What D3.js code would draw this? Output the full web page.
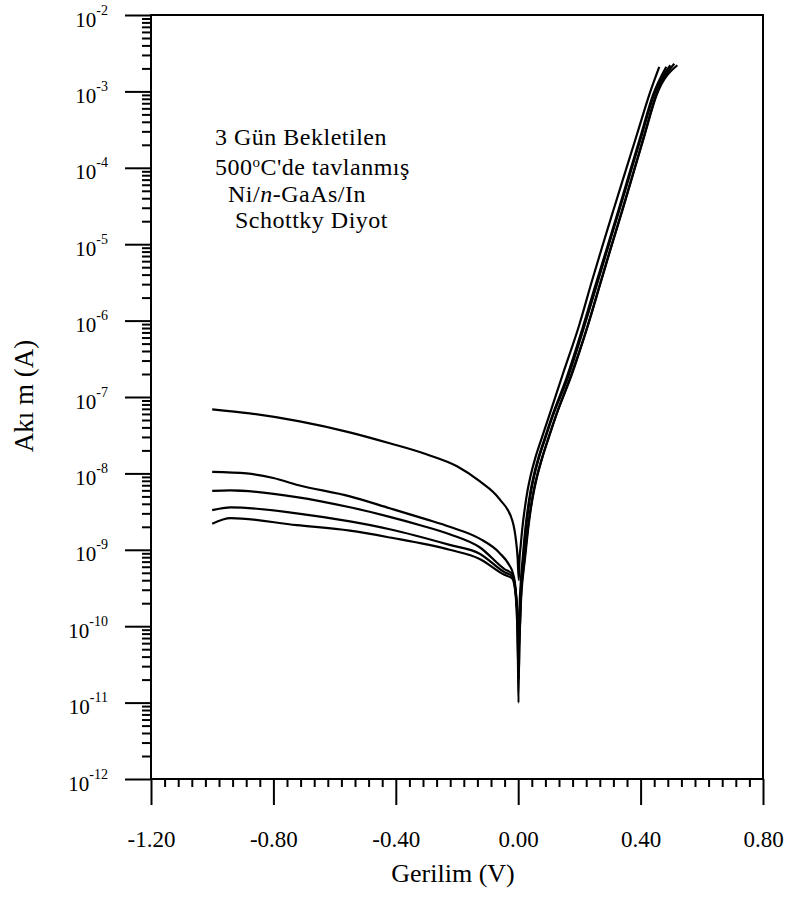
<!DOCTYPE html>
<html lang="en">
<head>
<meta charset="UTF-8">
<title>I-V</title>
<style>
    body { margin: 0; background: #fff; }
    text { font-family: "Liberation Serif", "Times New Roman", serif; fill: #000; }
    .curve { fill: none; stroke: #000; stroke-width: 2.2; }
    .axis path, .axis line { stroke: #000; }
</style>
</head>
<body>
<script src="https://d3js.org/d3.v7.min.js"></script>
<script>
    const width = 787;
    const height = 899;

    // tick values and labels
    const xMajor = [-1.2, -0.8, -0.4, 0, 0.4, 0.8];
    const xLabels = ['-1.20', '-0.80', '-0.40', '0.00', '0.40', '0.80'];
    const yExponents = [-12, -11, -10, -9, -8, -7, -6, -5, -4, -3, -2];

    // five measurements, voltage (V) and |current| (A)
    const vA = [-1.00, -0.877, -0.714, -0.551, -0.42, -0.30, -0.20, -0.126, -0.061, -0.019, -0.008, -0.002, 0.002,
        0.004, 0.008, 0.014, 0.022, 0.030, 0.040, 0.055, 0.075, 0.10, 0.146, 0.20, 0.24, 0.277, 0.31, 0.354, 0.39, 0.432, 0.461];
    const iA = [6.9e-8, 6.1e-8, 4.8e-8, 3.45e-8, 2.48e-8, 1.78e-8, 1.24e-8, 7.9e-9, 4.6e-9, 2.4e-9, 1.4e-9, 8e-10, 4e-10,
        7.1e-10, 1.12e-9, 2.0e-9, 3.6e-9, 5.8e-9, 9.1e-9, 1.55e-8, 2.75e-8, 5.5e-8, 2.0e-7, 8.9e-7, 3.2e-6, 1.0e-5, 2.7e-5, 1.0e-4, 2.9e-4, 1.0e-3, 2.1e-3];

    const vB = [-1.00, -0.887, -0.80, -0.724, -0.55, -0.42, -0.30, -0.224, -0.126, -0.061, -0.028, -0.019, -0.010, -0.004, -0.001, 0.001, 0.004, 0.008,
        0.014, 0.018, 0.024, 0.032, 0.040, 0.050, 0.065, 0.085, 0.11, 0.158, 0.21, 0.25, 0.29, 0.33, 0.365, 0.40, 0.44, 0.484];
    const iB = [1.05e-8, 1.0e-8, 8.7e-9, 7.1e-9, 5.0e-9, 3.5e-9, 2.5e-9, 2.0e-9, 1.4e-9, 9.1e-10, 6.2e-10, 5.2e-10, 3.5e-10, 1.6e-10, 4e-11, 1e-11, 1.5e-10, 3.5e-10,
        7.2e-10, 1.12e-9, 2.0e-9, 3.6e-9, 5.8e-9, 9.1e-9, 1.55e-8, 2.75e-8, 5.5e-8, 1.78e-7, 7.9e-7, 2.7e-6, 8.9e-6, 3.0e-5, 8.9e-5, 2.6e-4, 8.9e-4, 2.1e-3];

    const vC = [-1.00, -0.942, -0.724, -0.55, -0.42, -0.32, -0.224, -0.126, -0.045, -0.019, -0.008, -0.003, 0.002, 0.006,
        0.016, 0.020, 0.026, 0.034, 0.042, 0.052, 0.067, 0.087, 0.112, 0.162, 0.214, 0.253, 0.293, 0.333, 0.368, 0.403, 0.443, 0.497];
    const iC = [5.9e-9, 6.0e-9, 4.9e-9, 3.6e-9, 2.7e-9, 2.1e-9, 1.6e-9, 1.08e-9, 5.6e-10, 4.8e-10, 2.5e-10, 1e-10, 2e-11, 1.6e-10,
        7.2e-10, 1.12e-9, 2.0e-9, 3.6e-9, 5.8e-9, 9.1e-9, 1.55e-8, 2.75e-8, 5.5e-8, 1.78e-7, 7.9e-7, 2.6e-6, 8.9e-6, 3.0e-5, 8.9e-5, 2.6e-4, 8.9e-4, 2.2e-3];

    const vD = [-1.00, -0.94, -0.724, -0.55, -0.42, -0.224, -0.126, -0.045, -0.019, -0.008, -0.002, 0.003, 0.008,
        0.020, 0.025, 0.032, 0.041, 0.050, 0.061, 0.077, 0.097, 0.122, 0.174, 0.226, 0.265, 0.30, 0.34, 0.375, 0.41, 0.45, 0.51];
    const iD = [3.3e-9, 3.6e-9, 3.0e-9, 2.35e-9, 1.86e-9, 1.16e-9, 8.9e-10, 5.1e-10, 4.5e-10, 2.8e-10, 1.3e-10, 5e-11, 2.0e-10,
        7.2e-10, 1.12e-9, 2.0e-9, 3.6e-9, 5.8e-9, 9.1e-9, 1.55e-8, 2.75e-8, 5.5e-8, 2.0e-7, 8.3e-7, 2.8e-6, 8.3e-6, 2.8e-5, 8.3e-5, 2.5e-4, 8.9e-4, 2.3e-3];

    const vE = [-1.00, -0.94, -0.724, -0.55, -0.42, -0.224, -0.126, -0.045, -0.019, -0.008, -0.002, 0.004, 0.01,
        0.022, 0.027, 0.034, 0.043, 0.052, 0.063, 0.079, 0.099, 0.124, 0.176, 0.228, 0.267, 0.302, 0.342, 0.377, 0.412, 0.452, 0.52];
    const iE = [2.2e-9, 2.6e-9, 2.1e-9, 1.78e-9, 1.45e-9, 1.0e-9, 7.6e-10, 4.7e-10, 4.2e-10, 2.6e-10, 1.5e-10, 8e-11, 2.5e-10,
        7.6e-10, 1.17e-9, 2.1e-9, 3.8e-9, 6.0e-9, 9.5e-9, 1.62e-8, 2.9e-8, 5.75e-8, 2.0e-7, 8.7e-7, 2.9e-6, 8.7e-6, 2.9e-5, 8.7e-5, 2.6e-4, 8.9e-4, 2.2e-3];

    const series = [[vA, iA], [vB, iB], [vC, iC], [vD, iD], [vE, iE]];

    const pLeft = 151, pRight = 763, pTop = 15, pBottom = 779;

    const svg = d3.select('body').append('svg').attr('width', width).attr('height', height);

    const x = d3.scaleLinear().domain([-1.2, 0.8]).range([pLeft, pRight]);
    const y = d3.scaleLog().domain([1e-12, 1e-2]).range([pBottom, pTop]);

    // minor ticks
    const xMinor = [];
    for (let i = 0; i < xMajor.length - 1; i++) {
        for (let k = 1; k < 9; k++) xMinor.push(xMajor[i] + (xMajor[i + 1] - xMajor[i]) * k / 9);
    }
    const yMinor = [];
    yExponents.slice(0, -1).forEach(e => {
        for (let m = 2; m <= 9; m++) yMinor.push(m * Math.pow(10, e));
    });

    svg.append('g').attr('class', 'axis').attr('transform', `translate(0,${pBottom})`)
        .call(d3.axisBottom(x).tickValues(xMinor).tickSize(8).tickSizeOuter(0).tickFormat(''))
        .call(g => g.selectAll('line').attr('stroke-width', 2));
    svg.append('g').attr('class', 'axis').attr('transform', `translate(0,${pBottom})`)
        .call(d3.axisBottom(x).tickValues(xMajor).tickSize(26).tickSizeOuter(0).tickFormat((d, i) => xLabels[i]))
        .call(g => g.selectAll('line').attr('stroke-width', 2))
        .call(g => g.selectAll('text').attr('font-size', 23).attr('dy', null).attr('y', 68).attr('font-family', '"Liberation Serif", serif'));

    svg.append('g').attr('class', 'axis').attr('transform', `translate(${pLeft},0)`)
        .call(d3.axisLeft(y).tickValues(yMinor).tickSize(9).tickSizeOuter(0).tickFormat(''))
        .call(g => g.selectAll('line').attr('stroke-width', 2));
    svg.append('g').attr('class', 'axis').attr('transform', `translate(${pLeft},0)`)
        .call(d3.axisLeft(y).tickValues(yExponents.map(e => Math.pow(10, e))).tickSize(26).tickSizeOuter(0).tickFormat(''))
        .call(g => g.selectAll('line').attr('stroke-width', 2));

    // y labels 10^n
    const yl = svg.append('g').selectAll('text').data(yExponents).enter().append('text')
        .attr('x', 108).attr('y', d => y(Math.pow(10, d)) + 11.5)
        .attr('text-anchor', 'end').attr('font-size', 21);
    yl.append('tspan').text('10');
    yl.append('tspan').attr('font-size', 14).attr('dy', -12).text(d => d);

    // frame
    svg.append('rect').attr('x', pLeft).attr('y', pTop).attr('width', pRight - pLeft).attr('height', pBottom - pTop)
        .attr('fill', 'none').attr('stroke', '#000').attr('stroke-width', 2);

    // curves
    const line = d3.line().x(d => x(d[0])).y(d => y(d[1])).curve(d3.curveMonotoneX);
    series.forEach(([v, cur]) => {
        svg.append('path').attr('class', 'curve').attr('d', line(v.map((d, i) => [d, cur[i]])));
    });

    // titles
    svg.append('text').attr('x', 453).attr('y', 882).attr('text-anchor', 'middle').attr('font-size', 26).text('Gerilim (V)');
    svg.append('text').attr('transform', 'translate(33,396) rotate(-90)').attr('text-anchor', 'middle')
        .attr('font-size', 27).text('Akı m (A)');

    // annotation
    const note = svg.append('g').attr('font-size', 24).attr('letter-spacing', 0.5);
    note.append('text').attr('x', 215).attr('y', 145).text('3 Gün Bekletilen');
    const l2 = note.append('text').attr('x', 215).attr('y', 175);
    l2.append('tspan').text('500');
    l2.append('tspan').attr('font-size', 15).attr('dy', -8).text('o');
    l2.append('tspan').attr('dy', 8).text("C'de tavlanmış");
    const l3 = note.append('text').attr('x', 228).attr('y', 202);
    l3.append('tspan').text('Ni/');
    l3.append('tspan').attr('font-style', 'italic').text('n');
    l3.append('tspan').text('-GaAs/In');
    note.append('text').attr('x', 235).attr('y', 228).text('Schottky Diyot');
</script>
</body>
</html>
